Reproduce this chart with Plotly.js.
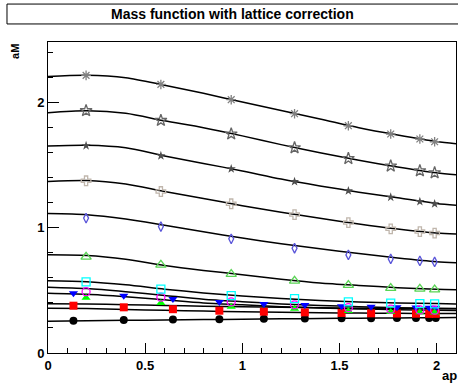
<!DOCTYPE html>
<html><head><meta charset="utf-8">
<script src="https://cdn.plot.ly/plotly-3.0.1.min.js"></script>
<style>html,body{margin:0;padding:0;background:#fff}#c{width:458px;height:383px}</style>
</head><body><div id="c"></div>
<script>
// momentum values (ap)
const apFine = [0.131, 0.390, 0.643, 0.882, 1.111, 1.322, 1.511, 1.663, 1.796, 1.894, 1.962, 1.996];
const apCoarse = [0.196, 0.581, 0.943, 1.269, 1.546, 1.764, 1.914, 1.990];
// curve sample points
const curveX = [0, 0.2, 0.4, 0.6, 0.8, 1.0, 1.2, 1.4, 1.6, 1.8, 2.0, 2.1];

// data points (aM)
const mBlack   = [0.258, 0.264, 0.268, 0.270, 0.273, 0.275, 0.277, 0.278, 0.279, 0.280, 0.280, 0.280];
const mRed     = [0.378, 0.365, 0.350, 0.338, 0.330, 0.325, 0.320, 0.317, 0.315, 0.314, 0.313, 0.313];
const mBlue    = [0.478, 0.458, 0.432, 0.408, 0.392, 0.384, 0.373, 0.370, 0.365, 0.363, 0.362, 0.361];
const mGreen   = [0.442, 0.400, 0.370, 0.354, 0.336, 0.328, 0.325, 0.324];
const mMagenta = [0.490, 0.446, 0.408, 0.385, 0.362, 0.350, 0.344, 0.342];
const mCyan    = [0.568, 0.510, 0.458, 0.434, 0.408, 0.398, 0.394, 0.392];
const mLtGreen = [0.768, 0.704, 0.630, 0.576, 0.542, 0.518, 0.512, 0.506];
const mDiamond = [1.078, 1.010, 0.912, 0.837, 0.784, 0.752, 0.736, 0.728];
const mCross   = [1.376, 1.290, 1.192, 1.106, 1.042, 0.992, 0.970, 0.958];
const mSStar   = [1.656, 1.576, 1.472, 1.370, 1.296, 1.245, 1.210, 1.192];
const mStar    = [1.936, 1.858, 1.750, 1.640, 1.554, 1.494, 1.456, 1.440];
const mAster   = [2.218, 2.146, 2.024, 1.912, 1.816, 1.750, 1.710, 1.688];

// fitted curves (aM at curveX)
const cBlack   = [0.254, 0.257, 0.261, 0.264, 0.267, 0.270, 0.273, 0.276, 0.278, 0.280, 0.282, 0.283];
const cRed     = [0.358, 0.355, 0.348, 0.341, 0.335, 0.330, 0.326, 0.322, 0.319, 0.317, 0.315, 0.315];
const cBlue    = [0.394, 0.392, 0.386, 0.380, 0.374, 0.369, 0.365, 0.361, 0.358, 0.356, 0.354, 0.354];
const cGreen   = [0.478, 0.470, 0.450, 0.425, 0.400, 0.385, 0.370, 0.360, 0.352, 0.346, 0.342, 0.340];
const cMagenta = [0.526, 0.515, 0.490, 0.460, 0.430, 0.410, 0.392, 0.380, 0.370, 0.362, 0.357, 0.355];
const cCyan    = [0.578, 0.570, 0.545, 0.510, 0.480, 0.455, 0.435, 0.420, 0.408, 0.400, 0.395, 0.392];
const cLtGreen = [0.786, 0.780, 0.750, 0.700, 0.660, 0.625, 0.590, 0.560, 0.540, 0.522, 0.510, 0.506];
const cDiamond = [1.114, 1.105, 1.070, 1.020, 0.968, 0.918, 0.873, 0.833, 0.795, 0.760, 0.730, 0.722];
const cCross   = [1.370, 1.378, 1.350, 1.290, 1.235, 1.177, 1.125, 1.077, 1.030, 0.990, 0.958, 0.950];
const cSStar   = [1.654, 1.660, 1.640, 1.575, 1.515, 1.455, 1.390, 1.335, 1.285, 1.240, 1.195, 1.180];
const cStar    = [1.920, 1.935, 1.915, 1.855, 1.800, 1.735, 1.665, 1.600, 1.540, 1.487, 1.440, 1.424];
const cAster   = [2.210, 2.220, 2.200, 2.140, 2.075, 2.005, 1.937, 1.870, 1.800, 1.742, 1.690, 1.672];

const curves = [cBlack, cRed, cBlue, cGreen, cMagenta, cCyan, cLtGreen, cDiamond, cCross, cSStar, cStar, cAster];
const traces = [];
curves.forEach(c => traces.push({x: curveX, y: c, mode: 'lines', line: {color: '#000', width: 1.5, shape: 'spline', smoothing: 0.8}, hoverinfo: 'skip'}));

function pts(x, y, symbol, color, size, lw) {
  return {x: x, y: y, mode: 'markers', marker: {symbol: symbol, color: color, size: size, line: {color: color, width: lw}}};
}
traces.push(pts(apFine, mBlack, 'circle', '#000000', 8, 0));
traces.push(pts(apFine, mRed, 'square', '#ff0000', 8, 0));
traces.push(pts(apFine, mBlue, 'triangle-down', '#0000ff', 8, 0));
traces.push(pts(apCoarse, mGreen, 'triangle-up', '#00ff00', 8, 0));
traces.push(pts(apCoarse, mMagenta, 'circle-open', '#ff00ff', 8, 1.3));
traces.push(pts(apCoarse, mCyan, 'square-open', '#00ffff', 8, 1.3));
traces.push(pts(apCoarse, mLtGreen, 'triangle-up-open', '#59d454', 9, 1.3));
traces.push(pts(apCoarse, mDiamond, 'diamond-tall-open', '#5954d9', 7, 1.3));
traces.push(pts(apCoarse, mCross, 'cross-open', '#c0b6ac', 8, 1.3));
traces.push(pts(apCoarse, mSStar, 'star', '#4d4d4d', 7, 0));
traces.push(pts(apCoarse, mStar, 'star-open', '#666666', 9, 1.3));
traces.push(pts(apCoarse, mAster, 'asterisk-open', '#808080', 8, 1.3));

const tickFont = {family: 'Liberation Sans, Arial, sans-serif', size: 13, color: '#000', weight: 'bold'};
const layout = {
  width: 458, height: 383,
  margin: {l: 48, r: 2, t: 42, b: 30},
  showlegend: false,
  paper_bgcolor: '#fff', plot_bgcolor: '#fff',
  xaxis: {range: [0, 2.1], showgrid: false, zeroline: false, showline: true, mirror: true, linecolor: '#000', linewidth: 1,
    ticks: 'inside', ticklen: 10, tickcolor: '#000', dtick: 0.5, tick0: 0, tickfont: tickFont,
    minor: {ticks: 'inside', ticklen: 5, dtick: 0.1, tickcolor: '#000', showgrid: false}},
  yaxis: {range: [0, 2.485], showgrid: false, zeroline: false, showline: true, mirror: true, linecolor: '#000', linewidth: 1,
    ticks: 'inside', ticklen: 11, tickcolor: '#000', dtick: 1, tick0: 0, tickfont: tickFont,
    minor: {ticks: 'inside', ticklen: 5, dtick: 0.2, tickcolor: '#000', showgrid: false}},
  shapes: [
    {type: 'rect', xref: 'paper', yref: 'paper', x0: -0.1005, x1: 1.02, y0: 1.058, y1: 1.122, line: {color: '#000', width: 1}, fillcolor: '#fff'}
  ],
  annotations: [
    {text: 'Mass function with lattice correction', xref: 'paper', yref: 'paper', x: 0.452, y: 1.09, xanchor: 'center', yanchor: 'middle', showarrow: false,
      font: {family: 'Liberation Sans, Arial, sans-serif', size: 14, color: '#000', weight: 'bold'}},
    {text: 'aM', xref: 'paper', yref: 'paper', x: -0.081, y: 0.971, xanchor: 'center', yanchor: 'middle', textangle: -90, showarrow: false,
      font: {family: 'Liberation Sans, Arial, sans-serif', size: 11, color: '#000', weight: 'bold'}},
    {text: 'ap', xref: 'paper', yref: 'paper', x: 0.985, y: -0.072, xanchor: 'center', yanchor: 'middle', showarrow: false,
      font: {family: 'Liberation Sans, Arial, sans-serif', size: 13, color: '#000', weight: 'bold'}}
  ]
};
Plotly.newPlot('c', traces, layout, {staticPlot: true, displayModeBar: false});
</script></body></html>
